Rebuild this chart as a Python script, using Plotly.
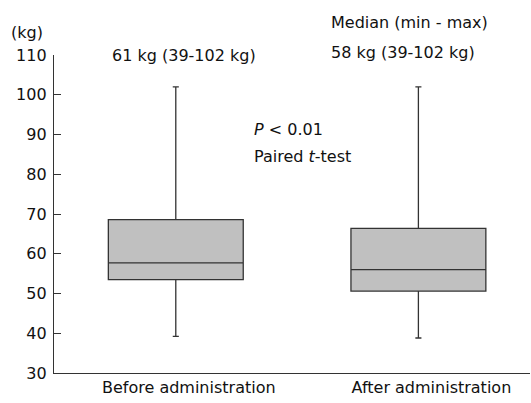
import plotly.graph_objects as go

categories = ["Before administration", "After administration"]
positions = [0, 1]
q1 = [53.5, 50.6]
median = [57.7, 56.0]
q3 = [68.6, 66.4]
lower = [39.2, 38.8]
upper = [102, 102]
y_ticks = [30, 40, 50, 60, 70, 80, 90, 100, 110]

FONT = "DejaVu Sans"
FS = 16
fig = go.Figure()
fig.add_trace(go.Box(
    x=positions, q1=q1, median=median, q3=q3,
    lowerfence=lower, upperfence=upper,
    fillcolor="#c0c0c0", line=dict(color="#333333", width=1.3),
    width=0.556, whiskerwidth=0.045, boxpoints=False, showlegend=False,
    hoverinfo="skip",
))

def note(text, x, y, xanchor="left", xref="x"):
    return dict(text=text, xref=xref, yref="paper", x=x, y=y, xanchor=xanchor,
                yanchor="middle", showarrow=False, font=dict(size=FS))

fig.update_layout(
    width=531, height=403,
    margin=dict(l=54, r=1, t=55, b=30),
    paper_bgcolor="white", plot_bgcolor="white",
    font=dict(family=FONT, size=FS, color="#111111"),
    xaxis=dict(range=[-0.502, 1.46], tickvals=positions, ticktext=categories,
               showline=True, linecolor="#333333", linewidth=1.3, showgrid=False,
               zeroline=False, ticks="", ticklabelshift=13),
    yaxis=dict(range=[30, 110], tickvals=y_ticks, showline=True, linecolor="#333333",
               linewidth=1.3, showgrid=False, zeroline=False, ticks="inside",
               ticklen=7, tickcolor="#333333", tickwidth=1.3, ticklabelstandoff=3),
    annotations=[
        note("(kg)", -0.094, 1.072, xref="paper"),
        note("61 kg (39-102 kg)", 0.033, 0.997, xanchor="center"),
        note("Median (min - max)", 0.630, 1.102),
        note("58 kg (39-102 kg)", 0.630, 1.009),
        note("<i>P</i> < 0.01", 0.313, 0.767),
        note("Paired <i>t</i>-test", 0.313, 0.680),
    ],
)
fig.write_html("out.html")
